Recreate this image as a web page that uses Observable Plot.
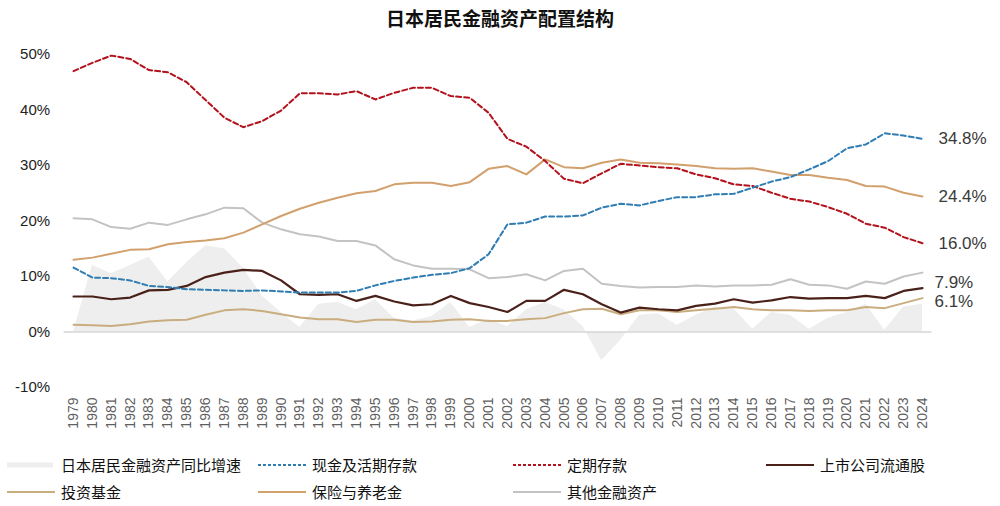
<!DOCTYPE html>
<html><head><meta charset="utf-8">
<script src="https://cdn.jsdelivr.net/npm/d3@7"></script>
<script src="https://cdn.jsdelivr.net/npm/@observablehq/plot@0.6"></script>
<style>
body{margin:0;background:#fff;font-family:"Liberation Sans","Noto Sans CJK SC",sans-serif;}
#wrap{position:relative;width:1000px;height:506px;overflow:hidden;background:#fff}
#title{position:absolute;top:7px;left:0;width:1000px;text-align:center;font-size:19px;line-height:22px;font-weight:bold;color:#111;font-family:"Noto Sans CJK SC",sans-serif}
#chart{position:absolute;top:36px;left:0}
.leg{position:absolute;display:flex;align-items:center;white-space:nowrap;font-size:15px;line-height:18px;color:#111;font-family:"Noto Sans CJK SC",sans-serif}
.leg svg{display:block}
</style></head>
<body>
<div id="wrap">
  <div id="title">日本居民金融资产配置结构</div>
  <div id="chart"></div>
  <div id="legend"></div>
</div>
<script>
const years = [1979,1980,1981,1982,1983,1984,1985,1986,1987,1988,1989,1990,1991,1992,1993,1994,1995,1996,1997,1998,1999,2000,2001,2002,2003,2004,2005,2006,2007,2008,2009,2010,2011,2012,2013,2014,2015,2016,2017,2018,2019,2020,2021,2022,2023,2024];
// 日本居民金融资产同比增速 (%)
const growth = [null,12.0,10.5,12.0,13.5,9.0,12.5,15.5,15.0,11.5,6.5,3.5,0.8,5.0,5.3,4.0,5.8,2.5,2.0,2.8,5.3,0.8,2.3,1.0,4.0,5.3,4.0,1.0,-5.2,-1.5,3.0,3.3,1.2,3.0,4.5,4.2,0.5,3.5,3.0,0.5,2.5,3.5,5.0,0.3,4.5,5.0];
// 现金及活期存款
const cash = [11.6,9.8,9.7,9.3,8.3,8.1,7.7,7.6,7.5,7.4,7.5,7.3,7.1,7.1,7.1,7.4,8.4,9.2,9.8,10.3,10.6,11.5,14.0,19.4,19.7,20.8,20.8,21.0,22.4,23.1,22.8,23.6,24.3,24.3,24.8,24.9,26.0,27.1,27.9,29.3,30.8,33.1,33.8,35.8,35.4,34.8];
// 定期存款
const deposits = [47.0,48.5,49.8,49.2,47.2,46.8,45.0,41.8,38.6,36.9,38.0,39.9,43.0,43.0,42.8,43.4,41.9,43.1,44.0,44.0,42.5,42.2,39.5,34.8,33.4,30.8,27.6,26.8,28.6,30.3,30.0,29.7,29.5,28.4,27.7,26.6,26.3,25.1,24.0,23.5,22.5,21.3,19.5,18.8,17.1,16.0];
// 上市公司流通股
const shares = [6.4,6.4,5.9,6.2,7.5,7.6,8.3,9.9,10.7,11.2,11.0,9.3,6.8,6.7,6.8,5.6,6.5,5.5,4.8,5.0,6.5,5.2,4.5,3.6,5.6,5.6,7.6,6.8,5.0,3.5,4.4,4.1,3.9,4.7,5.1,5.9,5.3,5.7,6.3,6.0,6.1,6.1,6.5,6.1,7.4,7.9];
// 投资基金
const funds = [1.3,1.2,1.1,1.4,1.9,2.1,2.2,3.1,3.9,4.1,3.8,3.2,2.6,2.3,2.3,1.8,2.2,2.2,1.8,1.9,2.2,2.3,2.0,2.0,2.3,2.5,3.4,4.1,4.2,3.2,3.9,3.9,3.6,3.9,4.2,4.5,4.1,3.9,3.9,3.8,3.9,3.9,4.5,4.3,5.2,6.1];
// 保险与养老金
const insurance = [13.0,13.4,14.1,14.8,14.9,15.8,16.2,16.5,16.9,17.9,19.4,20.9,22.2,23.3,24.2,25.0,25.4,26.6,26.9,26.9,26.3,27.0,29.4,29.9,28.4,31.1,29.7,29.5,30.5,31.1,30.5,30.4,30.2,29.9,29.5,29.4,29.5,28.9,28.3,28.3,27.8,27.4,26.3,26.2,25.1,24.4];
// 其他金融资产
const other = [20.5,20.3,18.9,18.6,19.7,19.3,20.3,21.2,22.4,22.3,19.7,18.5,17.6,17.2,16.4,16.4,15.6,13.1,12.0,11.4,11.4,11.3,9.7,9.9,10.4,9.3,11.0,11.4,8.7,8.3,8.0,8.1,8.1,8.4,8.2,8.4,8.4,8.5,9.5,8.5,8.4,7.8,9.1,8.7,10.0,10.7];
const yTicks = [-10,0,10,20,30,40,50];

const seriesNames = {
  growth:"日本居民金融资产同比增速", cash:"现金及活期存款", deposits:"定期存款", shares:"上市公司流通股",
  funds:"投资基金", insurance:"保险与养老金", other:"其他金融资产"
};
const styles = {
  cash:{stroke:"#2f7db3", dash:"5,3", w:2},
  deposits:{stroke:"#b3121c", dash:"5,3", w:2},
  shares:{stroke:"#4a2119", dash:null, w:2.2},
  funds:{stroke:"#c9ad7e", dash:null, w:2},
  insurance:{stroke:"#d2a06d", dash:null, w:2},
  other:{stroke:"#c3c3c3", dash:null, w:2}
};
const areaFill = "#eeeeee";

const data = years.map((yr,i)=>({year:yr, growth:growth[i], cash:cash[i], deposits:deposits[i], shares:shares[i], funds:funds[i], insurance:insurance[i], other:other[i]}));

const lineOrder = ["other","funds","insurance","shares","deposits","cash"];
const marks = [
  Plot.areaY(data, {x:"year", y:"growth", fill:areaFill}),
  Plot.ruleY([0], {stroke:"#d6d6d6", strokeWidth:1.5}),
  ...lineOrder.map(k => Plot.line(data, {x:"year", y:k, stroke:styles[k].stroke, strokeWidth:styles[k].w, strokeDasharray:styles[k].dash || undefined, curve:"linear"}))
];
// end labels
const labelPlace = {cash:{dx:16,dy:0}, insurance:{dx:16,dy:0}, deposits:{dx:16,dy:0}, shares:{dx:12,dy:-6}, funds:{dx:12,dy:3}};
for (const k of Object.keys(labelPlace)) {
  const last = data[data.length-1];
  marks.push(Plot.text([last], {x:"year", y:k, text:d=>d[k].toFixed(1)+"%", dx:labelPlace[k].dx, dy:labelPlace[k].dy, textAnchor:"start", fontSize:17, fill:"#3a3a3a", fontFamily:"Liberation Sans"}));
}
marks.push(Plot.axisY({ticks:yTicks, tickFormat:d=>d+"%", tickSize:0, tickPadding:14, fontSize:15, color:"#222", fontFamily:"Liberation Sans", label:null}));
marks.push(Plot.axisX({ticks:years, tickFormat:d=>String(d), tickRotate:-90, tickSize:0, tickPadding:10, fontSize:14, color:"#5f5f5f", fontFamily:"Liberation Sans", label:null}));

const chart = Plot.plot({
  width:1000, height:415,
  marginTop:18, marginBottom:64, marginLeft:63.6, marginRight:68.6,
  x:{type:"linear", domain:[1978.5,2024.5], label:null},
  y:{domain:[-10,50], label:null},
  style:{background:"transparent", fontFamily:"Liberation Sans"},
  marks
});
document.getElementById("chart").appendChild(chart);

// Legend
const legendItems = [
  {key:"growth", row:0, col:0}, {key:"cash", row:0, col:1}, {key:"deposits", row:0, col:2}, {key:"shares", row:0, col:3},
  {key:"funds", row:1, col:0}, {key:"insurance", row:1, col:1}, {key:"other", row:1, col:2}
];
const colX = [7, 258, 513, 766];
const rowY = [465, 492];
const leg = document.getElementById("legend");
for (const it of legendItems) {
  const div = document.createElement("div");
  div.className = "leg";
  div.style.left = colX[it.col] + "px";
  div.style.top = (rowY[it.row] - 9) + "px";
  let sw;
  if (it.key === "growth") {
    sw = `<svg width="48" height="10"><rect x="0" y="2.5" width="46" height="5" fill="${areaFill}"/></svg>`;
  } else {
    const s = styles[it.key];
    sw = `<svg width="48" height="10"><line x1="0" x2="48" y1="5" y2="5" stroke="${s.stroke}" stroke-width="2" ${s.dash ? 'stroke-dasharray="3,2"' : ''}/></svg>`;
  }
  div.innerHTML = sw + `<span style="margin-left:6px">${seriesNames[it.key]}</span>`;
  leg.appendChild(div);
}
</script>
</body></html>
